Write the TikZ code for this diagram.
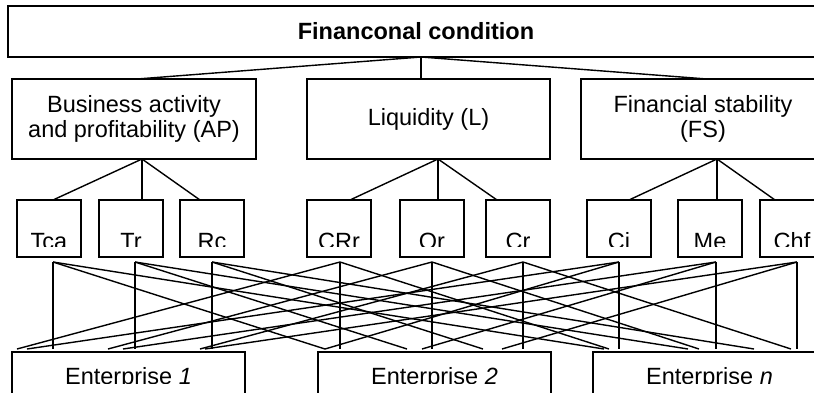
\documentclass[tikz,border=0pt]{standalone}
\usepackage{fontspec}
\setmainfont{Liberation Sans}
\usetikzlibrary{positioning}

\begin{document}
\begin{tikzpicture}[x=1pt, y=1pt, line width=1.4pt,
        font=\fontsize{23.5}{25}\selectfont,
        box/.style={draw, rectangle, outer sep=0pt, inner sep=0pt, align=center},
        group/.style={box, minimum width=244pt, minimum height=80pt},
        indic/.style={box, minimum width=64pt, minimum height=57pt},
        firm/.style={box, minimum width=233pt, minimum height=70pt},
        cutlabel/.style={anchor=base, inner sep=0pt}]
        \useasboundingbox (0,0) rectangle (814,-392);

        % top and second level
        \node[box, minimum width=816pt, minimum height=51pt, font=\fontsize{23.5}{25}\selectfont\bfseries] (fin) at (416,-31.5) {Financonal condition};
        \node[group] (ap) at (134,-119) {Business activity\\and profitability (AP)};
        \node[group, right=51pt of ap, minimum width=243pt] (liq) {Liquidity (L)};
        \node[group, right=31pt of liq] (fs) {Financial stability\\(FS)};

        % indicators
        \node[indic] (tca) at (49,-228.5) {};
        \node[indic, right=18pt of tca] (tr) {};
        \node[indic, right=17pt of tr] (rc) {};
        \node[indic, right=63pt of rc] (crr) {};
        \node[indic, right=29pt of crr] (or) {};
        \node[indic, right=22pt of or] (cr) {};
        \node[indic, right=37pt of cr] (ci) {};
        \node[indic, right=27pt of ci] (me) {};
        \node[indic, right=18pt of me] (chf) {};

        % enterprises
        \node[firm] (e1) at (128.5,-387) {};
        \node[firm, right=73pt of e1] (e2) {};
        \node[firm, right=42pt of e2] (en) {};

        % labels cut at the bottom
        \begin{scope}
            \clip (0,-200) rectangle (814,-246.5);
            \foreach \n/\t in {tca/Tca, tr/Tr, rc/Rc, crr/CRr, or/Or, cr/Cr, ci/Ci, me/Me, chf/Chf}
                \node[cutlabel] at ([yshift=8pt]\n.south) {\t};
        \end{scope}
        \begin{scope}
            \clip (0,-352) rectangle (814,-383.3);
            \node[cutlabel] at ([yshift=-32.9pt]e1.north) {Enterprise \textit{1}};
            \node[cutlabel] at ([yshift=-32.9pt]e2.north) {Enterprise \textit{2}};
            \node[cutlabel] at ([yshift=-32.9pt]en.north) {Enterprise \textit{n}};
        \end{scope}

        % tree
        \coordinate (fin-b) at ([xshift=5pt]fin.south);
        \draw (fin-b) -- ([xshift=3pt]ap.north);
        \draw (fin-b) -- ([xshift=-7.5pt]liq.north);
        \draw (fin-b) -- ([xshift=4pt]fs.north);

        \draw ([xshift=8pt]ap.south) -- ([xshift=4pt]tca.north);
        \draw ([xshift=8pt]ap.south) -- ([xshift=11pt]tr.north);
        \draw ([xshift=8pt]ap.south) -- ([xshift=-12pt]rc.north);
        \draw ([xshift=9.5pt]liq.south) -- ([xshift=11pt]crr.north);
        \draw ([xshift=9.5pt]liq.south) -- ([xshift=6pt]or.north);
        \draw ([xshift=9.5pt]liq.south) -- ([xshift=-21pt]cr.north);
        \draw ([xshift=14pt]fs.south) -- ([xshift=10pt]ci.north);
        \draw ([xshift=14pt]fs.south) -- ([xshift=7pt]me.north);
        \draw ([xshift=14pt]fs.south) -- ([xshift=-17pt]chf.north);

        % indicators to enterprises
        \foreach \n/\s in {tca/4, tr/4, rc/0, crr/1, or/0, cr/5, ci/0, me/6, chf/5}
            \coordinate (\n-o) at ([xshift=\s pt, yshift=-5pt]\n.south);
        \foreach \e in {e1, e2, en}
            \coordinate (\e-l) at ([yshift=3pt]\e.north west);

        \foreach \n/\e in {tca/e1, tr/e1, rc/e1, crr/e2, or/e2, cr/e2, ci/en, me/en, chf/en}
            \draw (\n-o) -- (\n-o |- \e-l);
        \foreach \n/\e/\s in {crr/e1/5, ci/e1/15, or/e1/96, me/e1/111, cr/e1/188, chf/e1/193,
                tca/e2/7, ci/e2/7, tr/e2/89, me/e2/104, rc/e2/165, chf/e2/184,
                tca/en/11, crr/en/16, tr/en/95, or/en/106, rc/en/161, cr/en/198}
            \draw (\n-o) -- ([xshift=\s pt]\e-l);
    \end{tikzpicture}
\end{document}
